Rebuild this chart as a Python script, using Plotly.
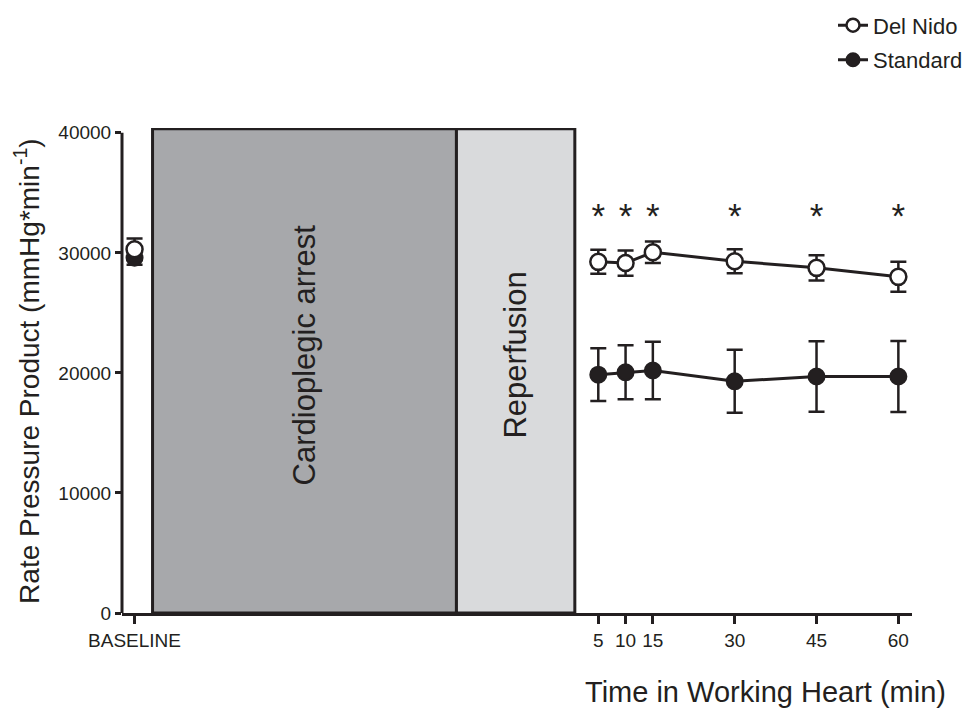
import plotly.graph_objects as go

# ---- data ----
time_labels = ["BASELINE", "5", "10", "15", "30", "45", "60"]
time_values = [-80, 5, 10, 15, 30, 45, 60]

delnido_mean = [30300, 29250, 29150, 30050, 29300, 28750, 28000]
delnido_err = [900, 1000, 1050, 900, 1000, 1050, 1250]

standard_mean = [29600, 19850, 20050, 20200, 19300, 19700, 19700]
standard_err = [600, 2200, 2250, 2400, 2620, 2930, 2960]

sig_times = [5, 10, 15, 30, 45, 60]
sig_level = 32800

phase_names = ["Cardioplegic arrest", "Reperfusion"]
phase_start = [-76.7, -21.0]
phase_end = [-21.0, 0.7]
phase_top = 40330
phase_label_y = [21500, 21500]
phase_colors = ["#a7a8ab", "#d9dadc"]

INK = "#231f20"
FONT = "Arial, Liberation Sans, sans-serif"

fig = go.Figure()

# phases (boxes)
for name, x0, x1, ly, col in zip(phase_names, phase_start, phase_end, phase_label_y, phase_colors):
    fig.add_shape(type="rect", xref="x", yref="y", x0=x0, x1=x1, y0=0, y1=phase_top,
                  fillcolor=col, line=dict(color=INK, width=3), layer="below")
    fig.add_annotation(x=(x0 + x1) / 2, y=ly, xref="x", yref="y", text=name,
                       showarrow=False, textangle=-90,
                       font=dict(family=FONT, size=31, color=INK))

err_style = dict(type="data", color=INK, thickness=2.5, width=8)

fig.add_trace(go.Scatter(
    x=time_values[1:], y=standard_mean[1:], mode="lines+markers", name="Standard",
    legendgroup="b", showlegend=False,
    line=dict(color=INK, width=3),
    marker=dict(symbol="circle", size=16, color=INK, line=dict(color=INK, width=2)),
    error_y=dict(array=standard_err[1:], **err_style)))
fig.add_trace(go.Scatter(
    x=time_values[:1], y=standard_mean[:1], mode="markers", name="Standard",
    legendgroup="b", showlegend=False,
    marker=dict(symbol="circle", size=16, color=INK, line=dict(color=INK, width=2)),
    error_y=dict(array=standard_err[:1], **err_style)))
fig.add_trace(go.Scatter(
    x=time_values[1:], y=delnido_mean[1:], mode="lines+markers", name="Del Nido",
    legendgroup="a", showlegend=False,
    line=dict(color=INK, width=3),
    marker=dict(symbol="circle", size=16, color="white", line=dict(color=INK, width=2.5)),
    error_y=dict(array=delnido_err[1:], **err_style)))
fig.add_trace(go.Scatter(
    x=time_values[:1], y=delnido_mean[:1], mode="markers", name="Del Nido",
    legendgroup="a", showlegend=False,
    marker=dict(symbol="circle", size=16, color="white", line=dict(color=INK, width=2.5)),
    error_y=dict(array=delnido_err[:1], **err_style)))

# legend-only traces
fig.add_trace(go.Scatter(x=[None], y=[None], mode="lines+markers", name="Del Nido",
                         legendgroup="a",
                         line=dict(color=INK, width=3),
                         marker=dict(symbol="circle", size=13, color="white",
                                     line=dict(color=INK, width=2.5))))
fig.add_trace(go.Scatter(x=[None], y=[None], mode="lines+markers", name="Standard",
                         legendgroup="b",
                         line=dict(color=INK, width=3),
                         marker=dict(symbol="circle", size=13, color=INK,
                                     line=dict(color=INK, width=2))))

# significance asterisks
fig.add_trace(go.Scatter(x=sig_times, y=[sig_level] * len(sig_times), mode="text",
                         text=["*"] * len(sig_times), showlegend=False, hoverinfo="skip",
                         textfont=dict(family=FONT, size=35, color=INK)))

# y axis line drawn only up to 40000
fig.add_shape(type="line", xref="paper", yref="y", x0=0, x1=0, y0=0, y1=40000,
              line=dict(color=INK, width=3))

fig.update_layout(
    template="none",
    width=971, height=709,
    margin=dict(l=114, r=67, t=120, b=104, autoexpand=False),
    paper_bgcolor="white", plot_bgcolor="white",
    font=dict(family=FONT, size=18, color=INK),
    xaxis=dict(range=[-82.3, 62.5], tickmode="array", tickvals=time_values,
               ticktext=time_labels, ticks="outside", ticklen=8, tickwidth=3,
               tickcolor=INK, showline=True, linecolor=INK, linewidth=3,
               showgrid=False, zeroline=False, automargin=False,
               tickfont=dict(family=FONT, size=19, color=INK)),
    yaxis=dict(range=[0, 40400], tickmode="array", tickvals=[0, 10000, 20000, 30000, 40000],
               ticktext=["0", "10000", "20000", "30000", "40000"],
               ticks="outside", ticklen=6, tickwidth=3, tickcolor=INK,
               showline=False, showgrid=False, zeroline=False, automargin=False,
               tickfont=dict(family=FONT, size=19, color=INK)),
    legend=dict(x=0.9, y=1.255, xanchor="left", yanchor="top",
                font=dict(family=FONT, size=22, color=INK), traceorder="grouped",
                tracegroupgap=3, bgcolor="rgba(0,0,0,0)"),
    showlegend=True,
)

fig.add_annotation(xref="paper", yref="paper", x=-0.121, y=0.5, xanchor="center",
                   yanchor="middle", textangle=-90,
                   text="Rate Pressure Product (mmHg*min<sup>-1</sup>)", showarrow=False,
                   font=dict(family=FONT, size=28, color=INK))
fig.add_annotation(xref="paper", yref="paper", x=0.815, y=-0.163, xanchor="center",
                   yanchor="middle",
                   text="Time in Working Heart (min)", showarrow=False,
                   font=dict(family=FONT, size=29, color=INK))

fig.write_html("out.html")
